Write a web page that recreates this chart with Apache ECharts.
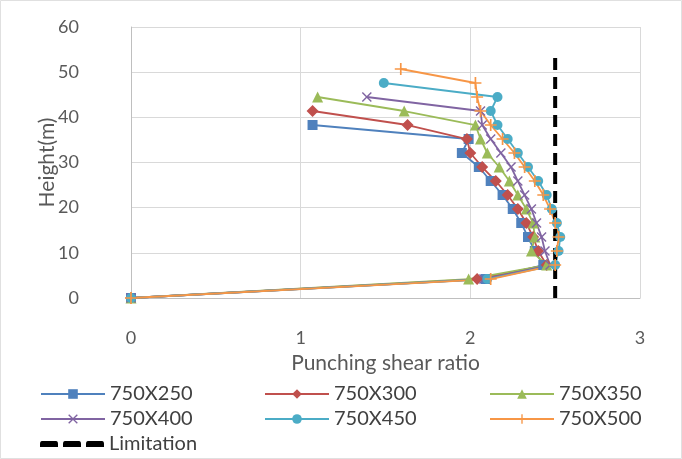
<!DOCTYPE html>
<html>
<head>
<meta charset="utf-8">
<script src="https://cdn.jsdelivr.net/npm/echarts@6/dist/echarts.min.js"></script>
<style>html,body{margin:0;padding:0;background:#fff}#c{width:682px;height:459px}</style>
</head>
<body>
<div id="c"></div>
<script>
// Floor heights (m)
const heights = [0, 4.2, 7.3, 10.4, 13.5, 16.6, 19.7, 22.8, 25.9, 29.0, 32.1, 35.2, 38.3, 41.4, 44.5, 47.6, 50.7];
// Punching shear ratio per series (bottom to top)
const r750x250 = [0, 2.09, 2.43, 2.38, 2.34, 2.30, 2.25, 2.19, 2.12, 2.05, 1.95, 1.99, 1.07];
const r750x300 = [0, 2.04, 2.45, 2.40, 2.37, 2.33, 2.28, 2.22, 2.15, 2.07, 2.00, 1.98, 1.63, 1.07];
const r750x350 = [0, 1.99, 2.45, 2.36, 2.38, 2.37, 2.33, 2.28, 2.23, 2.17, 2.10, 2.06, 2.03, 1.61, 1.10];
const r750x400 = [0, 2.08, 2.47, 2.44, 2.42, 2.39, 2.36, 2.32, 2.28, 2.24, 2.18, 2.12, 2.07, 2.06, 1.39];
const r750x450 = [0, 2.10, 2.50, 2.52, 2.53, 2.51, 2.48, 2.45, 2.40, 2.34, 2.28, 2.22, 2.16, 2.12, 2.16, 1.49];
const r750x500 = [0, 2.12, 2.50, 2.51, 2.52, 2.50, 2.47, 2.43, 2.38, 2.32, 2.26, 2.19, 2.12, 2.06, 2.04, 2.03, 1.59];
const limitX = [2.5, 2.5];
const limitH = [0, 54];
const seriesNames = ['750X250', '750X300', '750X350', '750X400', '750X450', '750X500'];
const xTicks = [0, 1, 2, 3];
const yTicks = [0, 10, 20, 30, 40, 50, 60];

const colors = ['#4F81BD', '#C0504D', '#9BBB59', '#8064A2', '#4BACC6', '#F79646'];
const symbols = ['rect', 'diamond', 'triangle',
  'path://M0,1 L1,0 L5,4 L9,0 L10,1 L6,5 L10,9 L9,10 L5,6 L1,10 L0,9 L4,5 Z',
  'circle',
  'path://M4.3,0 L5.7,0 L5.7,4.3 L10,4.3 L10,5.7 L5.7,5.7 L5.7,10 L4.3,10 L4.3,5.7 L0,5.7 L0,4.3 L4.3,4.3 Z'];
const sizes = [10, 12, 11, 10, 10, 12];
const allRatios = [r750x250, r750x300, r750x350, r750x400, r750x450, r750x500];

const font = 'Lato, "Open Sans", sans-serif';
const series = allRatios.map((arr, i) => ({
  name: seriesNames[i],
  type: 'line',
  data: arr.map((x, k) => [x, heights[k]]),
  symbol: symbols[i],
  symbolSize: sizes[i],
  showAllSymbol: true,
  lineStyle: { color: colors[i], width: 1.8 },
  itemStyle: { color: colors[i] },
  animation: false
}));
series.push({
  name: 'Limitation',
  type: 'line',
  data: limitX.map((x, k) => [x, limitH[k]]),
  symbol: 'none',
  lineStyle: { color: '#000', width: 4, type: [12, 7] },
  itemStyle: { color: '#000' },
  animation: false
});

const legendText = { fontFamily: font, fontSize: 20, color: '#404040' };
const rowTop = [384, 409, 434];
const colLeft = [40, 264, 489];
const legendLayout = [
  ['750X250', 0, 0], ['750X300', 0, 1], ['750X350', 0, 2],
  ['750X400', 1, 0], ['750X450', 1, 1], ['750X500', 1, 2],
  ['Limitation', 2, 0]
];
const dashIcon = 'path://M2,0 L16,0 Q18,0 18,3 L18,6 L0,6 L0,3 Q0,0 2,0 Z M25,0 L39,0 Q41,0 41,3 L41,6 L23,6 L23,3 Q23,0 25,0 Z M48,0 L62,0 Q64,0 64,3 L64,6 L46,6 L46,3 Q46,0 48,0 Z';
const legends = legendLayout.map(([name, r, c]) => ({
  left: colLeft[c], top: rowTop[r],
  itemWidth: 64, itemHeight: name === 'Limitation' ? 7 : 12,
  padding: 0,
  textStyle: legendText,
  data: [name === 'Limitation' ? { name: name, icon: dashIcon } : name]
}));

const chart = echarts.init(document.getElementById('c'));
chart.setOption({
  backgroundColor: '#fff',
  color: colors,
  grid: { left: 131, right: 42, top: 27, bottom: 161 },
  xAxis: {
    type: 'value', min: xTicks[0], max: xTicks[xTicks.length - 1], interval: 1,
    axisLine: { show: true, lineStyle: { color: '#bfbfbf' } },
    axisTick: { show: false },
    splitLine: { show: true, lineStyle: { color: '#d9d9d9' } },
    axisLabel: { margin: 31, fontFamily: font, fontSize: 18, color: '#595959' },
    name: 'Punching shear ratio', nameLocation: 'middle', nameGap: 55,
    nameMoveOverlap: false,
    nameTextStyle: { fontFamily: font, fontSize: 21, color: '#595959' }
  },
  yAxis: {
    type: 'value', min: yTicks[0], max: yTicks[yTicks.length - 1], interval: 10,
    axisLine: { show: true, lineStyle: { color: '#bfbfbf' } },
    axisTick: { show: false },
    splitLine: { show: true, lineStyle: { color: '#d9d9d9' } },
    axisLabel: { margin: 52, fontFamily: font, fontSize: 18, color: '#595959' },
    name: 'Height(m)', nameLocation: 'middle', nameGap: 73,
    nameMoveOverlap: false,
    nameTextStyle: { fontFamily: font, fontSize: 21, color: '#595959' }
  },
  legend: legends,
  graphic: [
    { type: 'rect', shape: { x: 0.5, y: 0.5, width: 681, height: 458 }, style: { fill: 'none', stroke: '#e0e0e0' }, z: -1 }
  ],
  series: series
});
</script>
</body>
</html>
